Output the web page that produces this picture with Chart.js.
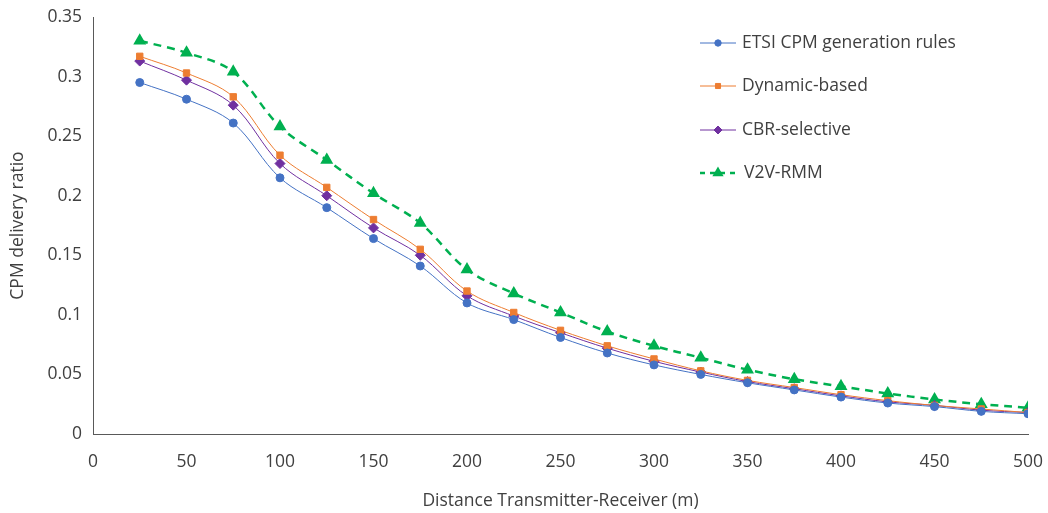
<!DOCTYPE html>
<html>
<head>
<meta charset="utf-8">
<script src="https://cdn.jsdelivr.net/npm/chart.js@4/dist/chart.umd.min.js"></script>
<style>
    html, body { margin: 0; padding: 0; background: #fff; }
    #wrap { position: relative; width: 1048px; height: 513px; }
</style>
</head>
<body>
<div id="wrap"><canvas id="cpm-chart"></canvas></div>
<script>
// distances (m)
const distances = [25, 50, 75, 100, 125, 150, 175, 200, 225, 250, 275, 300, 325, 350, 375, 400, 425, 450, 475, 500];

// delivery ratio per scheme
const etsiValues    = [0.295, 0.281, 0.261, 0.215, 0.190, 0.164, 0.141, 0.110, 0.096, 0.081, 0.068, 0.058, 0.050, 0.043, 0.037, 0.031, 0.026, 0.023, 0.019, 0.017];
const dynamicValues = [0.317, 0.303, 0.283, 0.234, 0.207, 0.180, 0.155, 0.120, 0.102, 0.087, 0.074, 0.063, 0.053, 0.045, 0.039, 0.033, 0.028, 0.024, 0.021, 0.018];
const cbrValues     = [0.313, 0.297, 0.276, 0.227, 0.200, 0.173, 0.150, 0.116, 0.099, 0.085, 0.072, 0.061, 0.052, 0.044, 0.038, 0.032, 0.027, 0.024, 0.020, 0.018];
const v2vValues     = [0.330, 0.320, 0.304, 0.258, 0.230, 0.202, 0.177, 0.138, 0.118, 0.102, 0.086, 0.074, 0.064, 0.054, 0.046, 0.040, 0.034, 0.029, 0.025, 0.022];

const seriesNames = ['ETSI CPM generation rules', 'Dynamic-based', 'CBR-selective', 'V2V-RMM'];
const xTicks = [0, 50, 100, 150, 200, 250, 300, 350, 400, 450, 500];
const yTicks = [0, 0.05, 0.1, 0.15, 0.2, 0.25, 0.3, 0.35];

const FONT = "'Open Sans', 'Noto Sans', sans-serif";
const FONT_SIZE = 17.5;
const TEXT_COLOR = '#404040';

const toPoints = (vals) => vals.map((v, i) => ({ x: distances[i], y: v }));

const makeSeries = (label, vals, color, style, extra) => Object.assign({
    label: label,
    data: toPoints(vals),
    borderColor: color,
    backgroundColor: color,
    pointBackgroundColor: color,
    pointBorderColor: color,
    pointStyle: style,
    borderWidth: 1,
    pointRadius: 4,
    tension: 0.35
}, extra || {});

const datasets = [
    makeSeries(seriesNames[0], etsiValues, '#4472C4', 'circle', { pointRadius: 4 }),
    makeSeries(seriesNames[1], dynamicValues, '#ED7D31', 'rect', { pointRadius: 4.5 }),
    makeSeries(seriesNames[2], cbrValues, '#7030A0', 'rectRot', { pointRadius: 5 }),
    makeSeries(seriesNames[3], v2vValues, '#00B050', 'triangle', { borderWidth: 2.5, borderDash: [8, 6], pointRadius: 5 })
];

// legend drawn inside plot area, top right
const insideLegend = {
    id: 'insideLegend',
    afterDraw(chart) {
        const ctx = chart.ctx;
        const rowsY = [43, 86, 130, 173];
        const lineX0 = 700, lineX1 = 736, textX = 742;
        ctx.save();
        chart.data.datasets.forEach((ds, i) => {
            const y = rowsY[i];
            ctx.strokeStyle = ds.borderColor;
            ctx.lineWidth = ds.borderWidth;
            ctx.setLineDash(ds.borderDash ? [5, 5] : []);
            ctx.beginPath();
            ctx.moveTo(lineX0, y);
            ctx.lineTo(lineX1, y);
            ctx.stroke();
            ctx.setLineDash([]);
            ctx.fillStyle = ds.pointBackgroundColor;
            Chart.helpers.drawPoint(ctx, {
                pointStyle: ds.pointStyle,
                radius: ds.pointRadius * 0.8,
                borderWidth: 1
            }, (lineX0 + lineX1) / 2, y);
            ctx.fillStyle = TEXT_COLOR;
            ctx.font = `${FONT_SIZE}px ${FONT}`;
            ctx.textAlign = 'left';
            ctx.textBaseline = 'middle';
            ctx.fillText(ds.label, i === 3 ? textX + 2 : textX, y);
        });
        ctx.restore();
    }
};

const ctx = document.getElementById('cpm-chart').getContext('2d');
new Chart(ctx, {
    type: 'line',
    data: { datasets: datasets },
    options: {
        responsive: true,
        maintainAspectRatio: false,
        animation: false,
        layout: { padding: { top: 17, right: 20, bottom: 0, left: 0 } },
        plugins: {
            legend: { display: false },
            tooltip: { enabled: false }
        },
        scales: {
            x: {
                type: 'linear',
                min: 0,
                max: 500,
                afterBuildTicks: (scale) => { scale.ticks = xTicks.map(v => ({ value: v })); },
                afterFit: (scale) => {
                    scale.height = 79;
                    scale.paddingLeft = 0;
                    scale.paddingRight = 0;
                },
                grid: { display: false, drawTicks: false },
                border: { display: true, color: '#595959', width: 1 },
                ticks: { color: TEXT_COLOR, font: { family: FONT, size: FONT_SIZE }, padding: 18, maxRotation: 0 },
                title: {
                    display: true,
                    text: 'Distance Transmitter-Receiver (m)',
                    color: TEXT_COLOR,
                    font: { family: FONT, size: FONT_SIZE },
                    padding: { top: 0, bottom: 1 }
                }
            },
            y: {
                min: 0,
                max: 0.35,
                afterBuildTicks: (scale) => { scale.ticks = yTicks.map(v => ({ value: v })); },
                afterFit: (scale) => {
                    scale.width = 93;
                    scale.paddingTop = 0;
                    scale.paddingBottom = 0;
                },
                grid: { display: false, drawTicks: false },
                border: { display: true, color: '#595959', width: 1 },
                ticks: {
                    color: TEXT_COLOR,
                    font: { family: FONT, size: FONT_SIZE },
                    padding: 11,
                    callback: (v) => String(Math.round(v * 100) / 100)
                },
                title: {
                    display: true,
                    text: 'CPM delivery ratio',
                    color: TEXT_COLOR,
                    font: { family: FONT, size: FONT_SIZE },
                    padding: { top: 8, bottom: 0 }
                }
            }
        }
    },
    plugins: [insideLegend]
});
</script>
</body>
</html>
